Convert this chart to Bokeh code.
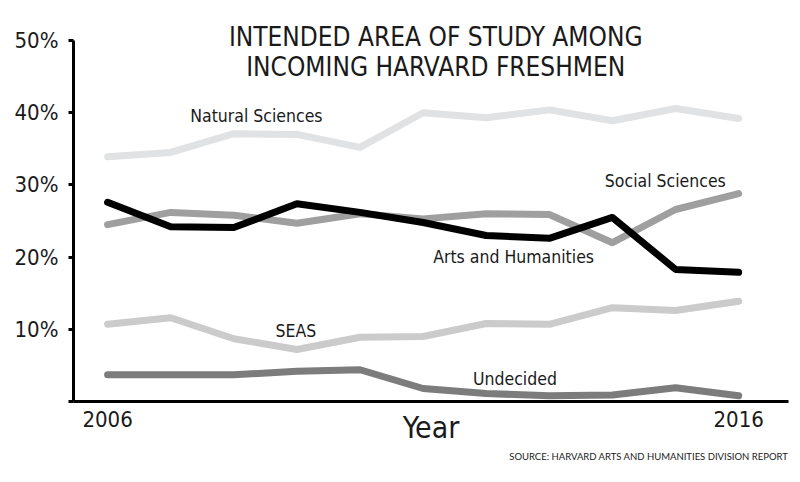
from bokeh.plotting import figure
from bokeh.models import Label, FixedTicker, Title
from bokeh.embed import file_html
from bokeh.resources import INLINE

years = list(range(2006, 2017))
natural_sciences = [33.9, 34.5, 37.1, 37.0, 35.2, 40.0, 39.3, 40.4, 38.9, 40.6, 39.2]
social_sciences = [24.5, 26.2, 25.8, 24.7, 26.0, 25.3, 26.0, 25.9, 22.0, 26.6, 28.8]
arts_humanities = [27.6, 24.2, 24.1, 27.4, 26.2, 24.8, 23.0, 22.6, 25.5, 18.3, 17.9]
seas = [10.7, 11.6, 8.7, 7.2, 8.9, 9.0, 10.8, 10.7, 13.0, 12.6, 13.9]
undecided = [3.7, 3.7, 3.7, 4.2, 4.4, 1.8, 1.1, 0.8, 0.9, 1.9, 0.8]

y_ticks = [0, 10, 20, 30, 40, 50]
y_tick_labels = ["", "10%", "20%", "30%", "40%", "50%"]
x_ticks = [2006, 2016]

FONT = "DejaVu Sans Condensed"
TXT = "#1a1a1a"

p = figure(width=792, height=474, output_backend="svg", toolbar_location=None,
           x_range=(2005.46, 2016.79), y_range=(0, 55),
           min_border_left=73, min_border_right=4, min_border_top=4, min_border_bottom=73)
p.outline_line_color = None
p.grid.grid_line_color = None
p.background_fill_color = "white"
p.border_fill_color = "white"

series = [
    (natural_sciences, "#e1e2e3"),
    (seas, "#cbcbcb"),
    (undecided, "#7c7c7c"),
    (social_sciences, "#9f9f9f"),
    (arts_humanities, "#000000"),
]
for vals, col in series:
    p.line(years, vals, line_color=col, line_width=7, line_cap="round", line_join="round")

# axes
p.yaxis.ticker = FixedTicker(ticks=y_ticks)
p.yaxis.bounds = (0, 50)
p.yaxis.major_label_overrides = {t: l for t, l in zip(y_ticks, y_tick_labels)}
p.yaxis.axis_line_width = 3
p.yaxis.axis_line_color = "black"
p.yaxis.major_tick_out = 5
p.yaxis.major_tick_in = 0
p.yaxis.major_tick_line_width = 3
p.yaxis.minor_tick_line_color = None
p.yaxis.major_label_standoff = 10
p.yaxis.major_label_text_font = FONT
p.yaxis.major_label_text_font_size = "22px"
p.yaxis.major_label_text_color = TXT

p.xaxis.ticker = FixedTicker(ticks=x_ticks)
p.xaxis.axis_line_width = 3
p.xaxis.axis_line_color = "black"
p.xaxis.major_tick_out = 0
p.xaxis.major_tick_in = 0
p.xaxis.minor_tick_line_color = None
p.xaxis.major_label_standoff = 9
p.xaxis.major_label_text_font = FONT
p.xaxis.major_label_text_font_size = "22px"
p.xaxis.major_label_text_color = TXT
p.xaxis.axis_label = "Year"
p.xaxis.axis_label_text_font = FONT
p.xaxis.axis_label_text_font_size = "30px"
p.xaxis.axis_label_text_font_style = "normal"
p.xaxis.axis_label_text_color = TXT
p.xaxis.axis_label_standoff = -20

p.add_layout(Title(text="SOURCE: HARVARD ARTS AND HUMANITIES DIVISION REPORT", align="right",
                   text_font="Lato", text_font_size="9.5px", text_font_style="normal",
                   text_color=TXT, standoff=2, offset=0), "below")

def lab(x, y, text, size, align="left", font=FONT, color=TXT):
    p.add_layout(Label(x=x, y=y, text=text, text_font=font, text_font_size=size,
                       text_color=color, text_align=align, text_baseline="middle"))

# title
lab(2011.2, 50.5, "INTENDED AREA OF STUDY AMONG", "26px", align="center")
lab(2011.2, 46.3, "INCOMING HARVARD FRESHMEN", "26px", align="center")

# series labels
lab(2007.31, 39.5, "Natural Sciences", "17.5px")
lab(2013.88, 30.5, "Social Sciences", "17.5px")
lab(2011.16, 20.0, "Arts and Humanities", "17.5px")
lab(2008.66, 9.76, "SEAS", "17.5px")
lab(2011.79, 3.05, "Undecided", "17.5px")

open("out.html", "w").write(file_html(p, INLINE))
